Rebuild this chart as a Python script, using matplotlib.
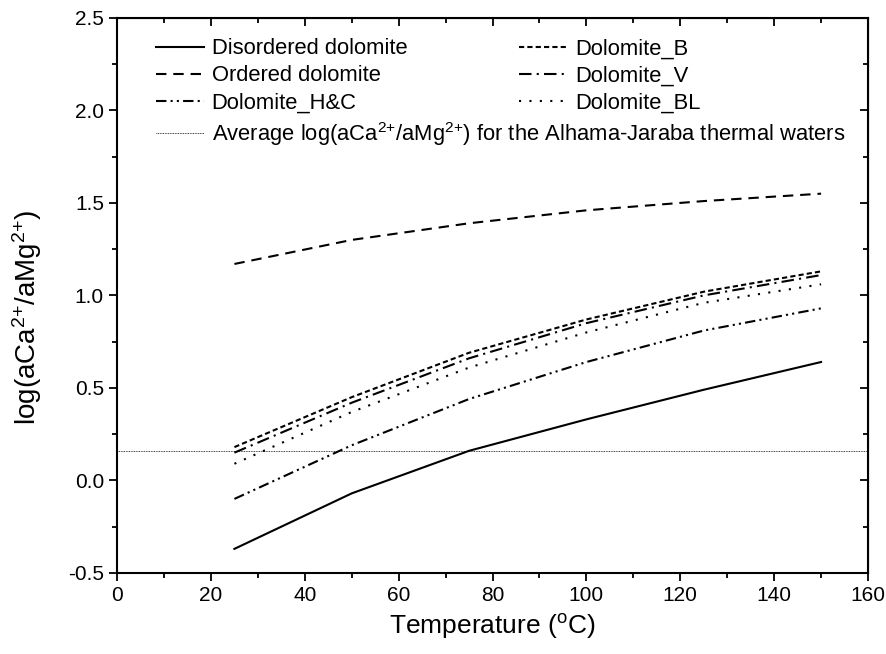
import matplotlib

matplotlib.use("Agg")
import matplotlib.pyplot as plt
from matplotlib.ticker import MultipleLocator

plt.rcParams["font.family"] = ["Liberation Sans", "DejaVu Sans"]
plt.rcParams["mathtext.fontset"] = "custom"
plt.rcParams["mathtext.rm"] = "Liberation Sans"
plt.rcParams["mathtext.it"] = "Liberation Sans:italic"

# data
temps = [25, 50, 75, 100, 125, 150]
disordered = [-0.37, -0.07, 0.16, 0.33, 0.49, 0.64]
ordered = [1.17, 1.30, 1.39, 1.46, 1.51, 1.55]
dol_b = [0.18, 0.45, 0.69, 0.87, 1.02, 1.13]
dol_v = [0.15, 0.42, 0.66, 0.85, 1.00, 1.11]
dol_hc = [-0.10, 0.19, 0.44, 0.64, 0.81, 0.93]
dol_bl = [0.09, 0.37, 0.61, 0.80, 0.96, 1.06]
avg_ratio = 0.16

SUP = "$^{\\mathrm{2{+}}}$"

fig = plt.figure(figsize=(8.87, 6.54), dpi=100)
ax = fig.add_axes([0.132, 0.124, 0.8466, 0.8486])

lw = 1.5
h1, = ax.plot(temps, disordered, color="black", lw=lw, ls="-",
              label="Disordered dolomite")
h2, = ax.plot(temps, ordered, color="black", lw=lw, ls=(0, (5, 3.3)),
              label="Ordered dolomite")
h3, = ax.plot(temps, dol_hc, color="black", lw=lw, ls=(0, (5, 2, 1, 2, 1, 2)),
              label="Dolomite_H&C")
h4 = ax.axhline(avg_ratio, color="black", lw=0.6, ls=(0, (1, 1)),
                label=f"Average log(aCa{SUP}/aMg{SUP}) for the Alhama-Jaraba thermal waters")
h5, = ax.plot(temps, dol_b, color="black", lw=lw, ls=(0, (2.5, 1.5)),
              label="Dolomite_B")
h6, = ax.plot(temps, dol_v, color="black", lw=lw, ls=(0, (6, 2.5, 1, 2.5)),
              label="Dolomite_V")
h7, = ax.plot(temps, dol_bl, color="black", lw=lw, ls=(0, (1, 4)),
              label="Dolomite_BL")

ax.set_xlim(0, 160)
ax.set_ylim(-0.5, 2.5)
ax.xaxis.set_major_locator(MultipleLocator(20))
ax.xaxis.set_minor_locator(MultipleLocator(10))
ax.yaxis.set_major_locator(MultipleLocator(0.5))
ax.yaxis.set_minor_locator(MultipleLocator(0.25))
ax.yaxis.set_major_formatter(plt.FuncFormatter(lambda v, p: f"{v:.1f}"))

for s in ax.spines.values():
    s.set_linewidth(1.5)

ax.tick_params(which="both", direction="out", width=1.3, labelsize=15,
               top=False, right=False)
ax.tick_params(which="major", length=6)
ax.tick_params(which="minor", length=3.5)

# inward ticks on top and right
ax_t = ax.secondary_xaxis("top")
ax_t.xaxis.set_major_locator(MultipleLocator(20))
ax_t.xaxis.set_minor_locator(MultipleLocator(10))
ax_t.tick_params(which="both", direction="in", width=1.3, labeltop=False)
ax_t.tick_params(which="major", length=6)
ax_t.tick_params(which="minor", length=3.5)
ax_r = ax.secondary_yaxis("right")
ax_r.yaxis.set_major_locator(MultipleLocator(0.5))
ax_r.yaxis.set_minor_locator(MultipleLocator(0.25))
ax_r.tick_params(which="both", direction="in", width=1.3, labelright=False)
ax_r.tick_params(which="major", length=6)
ax_r.tick_params(which="minor", length=3.5)

ax.set_xlabel("Temperature ($^{\\mathrm{o}}$C)", fontsize=19, labelpad=5)
ax.set_ylabel(f"log(aCa{SUP}/aMg{SUP})", fontsize=20)
ax.yaxis.set_label_coords(-0.097, 0.46)

leg1 = ax.legend(handles=[h1, h2, h3, h4], loc="upper left",
                 bbox_to_anchor=(0.028, 0.995), frameon=False, fontsize=15.8,
                 handlelength=2.2, handletextpad=0.35, labelspacing=0.28,
                 borderpad=0.3)
ax.add_artist(leg1)
ax.legend(handles=[h5, h6, h7], loc="upper left",
          bbox_to_anchor=(0.512, 0.995), frameon=False, fontsize=15.8,
          handlelength=2.2, handletextpad=0.35, labelspacing=0.28,
          borderpad=0.3)

fig.savefig("out.png", dpi=100, facecolor="white")
